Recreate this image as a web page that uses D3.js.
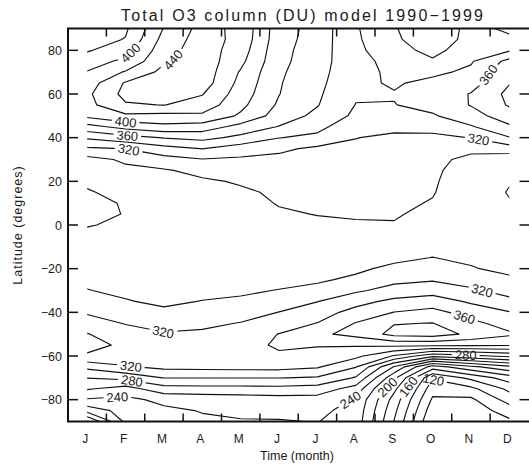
<!DOCTYPE html>
<html>
<head>
<meta charset="utf-8">
<script src="https://cdn.jsdelivr.net/npm/d3@7"></script>
<style>
  body { margin: 0; background: #fff; }
  svg { display: block; }
  text { font-family: "Liberation Sans", Arial, sans-serif; fill: #1a1a1a; }
</style>
</head>
<body>
<svg id="chart" width="529" height="467"></svg>
<script>
// Zonal-mean total ozone column (DU), monthly climatology 1990-1999.
// Each month array runs from 90N to 90S in 5-degree steps.
const latitudes = d3.range(90, -91, -5);
const monthLabels = ["J", "F", "M", "A", "M", "J", "J", "A", "S", "O", "N", "D"];
const latTicks = [-80, -60, -40, -20, 0, 20, 40, 60, 80];

const jan = [365, 371, 378, 392, 401, 410, 416, 414, 405, 373, 343, 317, 293.5, 288, 284, 278, 273, 273, 279,
             284, 288, 291, 294, 297, 300.5, 309, 318, 328, 341, 345, 338, 305, 280.5, 262, 238, 208, 158];
const feb = [377, 381, 392, 404, 422, 442, 446, 438, 416, 387, 353, 320.5, 303, 296, 292, 287, 282, 281, 283,
             286, 288, 290, 292, 294, 297, 301, 312, 319, 328, 337, 334, 318, 286, 252, 235, 228, 225];
const mar = [421, 427, 432, 437, 446, 452, 450, 440.5, 414, 395, 361, 333, 313, 298, 292, 289, 286, 285, 286,
             287, 288, 289, 290, 292, 294, 297, 303, 312, 322, 330, 333, 325, 300.5, 272, 245, 236, 232];
const apr = [447, 449, 450, 452, 452, 450, 441, 432, 416, 391, 366, 340.5, 319, 306, 297, 293, 290, 289, 289,
             289, 290, 290, 291, 293, 296, 300.5, 306, 315, 324, 331, 334, 326, 300.5, 273, 248, 241, 237];
const may = [435, 434, 430, 425, 418, 414, 410, 405, 397, 373, 355, 330, 317, 306, 302, 297, 294, 292, 291,
             290, 290, 290, 292, 295, 298, 302, 310, 321, 330, 335, 336, 327, 300.5, 273, 250, 243, 239];
const jun = [389, 388, 386, 385, 383, 381.5, 380.5, 377, 371, 359, 340.5, 324, 315, 310, 306, 303, 301, 298, 296,
             294, 293, 292, 293, 296, 300.5, 308, 320.5, 331, 340.5, 342, 338, 327, 300.5, 274, 252, 244, 239];
const jul = [372, 371, 370, 369, 367, 365, 363, 361, 355, 345, 336, 316, 310, 307, 305, 304, 302, 300.5, 297,
             294, 292, 291, 293, 297, 306, 319.5, 331, 340.5, 356, 341, 335, 322, 298, 271, 252, 244, 240.5];
const aug = [342, 343, 344, 345, 345, 344, 342, 339.5, 336, 328, 320.5, 316, 313, 310, 307, 305, 303, 301, 299,
             296, 294, 293, 296, 304, 317, 333, 347, 361, 366, 342, 325, 301, 278, 252, 238, 234, 232];
const sep = [322, 324, 329, 335, 337, 338, 341, 339.5, 334, 325, 316, 312, 309, 307, 305, 304, 303, 301.5, 299,
             297, 295, 295, 305, 315, 327, 345, 360.5, 379, 386, 345, 298, 238, 205, 185, 172, 165, 159];
const oct = [301, 305, 313, 323, 336, 345, 348, 346, 338, 326, 316, 309, 305, 303, 302, 301, 299, 296, 294,
             293, 292, 300.5, 309, 318, 332, 350, 366, 380.5, 389, 345, 265, 170, 122, 108, 97, 88, 80];
const nov = [328, 328, 333, 338, 344, 352, 361, 361, 352, 338, 320.5, 305, 295, 292, 290, 289, 289, 290, 291,
             292, 293, 295, 302, 312, 323, 337, 352, 365, 376, 343, 275, 195, 145, 115, 96, 88, 82];
const dec = [315, 325, 338, 366, 376, 379, 385, 382, 371, 357, 339, 310, 288, 284, 281, 279, 281, 284, 287,
             289, 290, 292, 293, 305, 313, 325, 341, 352, 363, 342, 285, 215, 170, 145, 128, 110, 96];

// Contour levels every 20 DU; labelled lines carry the level at these spots (month, latitude).
const levels = d3.range(100, 461, 20);
const contourLabels = [
  { level: 400, month: 1.70, lat: 77.5 },
  { level: 440, month: 2.82, lat: 74.5 },
  { level: 400, month: 1.49, lat: 45.5 },
  { level: 360, month: 1.54, lat: 39.5 },
  { level: 320, month: 1.57, lat: 33.5 },
  { level: 360, month: 10.96, lat: 68.7 },
  { level: 320, month: 10.70, lat: 39.5 },
  { level: 320, month: 10.80, lat: -29.5 },
  { level: 360, month: 10.35, lat: -41 },
  { level: 320, month: 2.48, lat: -49 },
  { level: 320, month: 1.64, lat: -64.5 },
  { level: 280, month: 1.67, lat: -71 },
  { level: 240, month: 1.28, lat: -76.5 },
  { level: 240, month: 7.30, lat: -77.8 },
  { level: 200, month: 8.17, lat: -71.5 },
  { level: 160, month: 8.77, lat: -72.7 },
  { level: 120, month: 9.52, lat: -71 },
  { level: 280, month: 10.36, lat: -62 }
];

const W = 529, H = 467;
const plotLeft = 68, plotRight = 528.5, plotTop = 28.5, plotBottom = 421.5;

const svg = d3.select("#chart");
const x = d3.scaleLinear().domain([0, 12]).range([plotLeft, plotRight]);
const y = d3.scaleLinear().domain([-90, 90]).range([plotBottom, plotTop]);

// Grid (row-major, north to south) for the contour generator
const months = [jan, feb, mar, apr, may, jun, jul, aug, sep, oct, nov, dec];
const nx = months.length, ny = latitudes.length;
const values = new Array(nx * ny);
for (let j = 0; j < ny; j++) for (let i = 0; i < nx; i++) values[j * nx + i] = months[i][j];

const contours = d3.contours().size([nx, ny]).thresholds(levels)(values);

const lat0 = latitudes[0], dLat = latitudes[1] - latitudes[0];
const gridToScreen = (gx, gy) => [x(gx), y(lat0 + (gy - 0.5) * dLat)];
const projection = d3.geoTransform({
  point(gx, gy) { const p = gridToScreen(gx, gy); this.stream.point(p[0], p[1]); }
});
const path = d3.geoPath(projection);

// Data extent: month centres of Jan..Dec, pole to pole
const x0 = x(0.5), x1 = x(nx - 0.5), y0 = y(lat0), y1 = y(latitudes[ny - 1]);

const defs = svg.append("defs");
defs.append("clipPath").attr("id", "dataArea")
  .append("rect").attr("x", x0).attr("y", y0).attr("width", x1 - x0).attr("height", y1 - y0);

const contourG = svg.append("g").attr("clip-path", "url(#dataArea)");
const labelG = svg.append("g");

// Find the spot on a level's line closest to the requested position
function locateLabel(spec) {
  const c = contours.find(d => d.value === spec.level);
  const tx = x(spec.month), ty = y(spec.lat);
  const inside = p => p[0] >= x0 - 0.5 && p[0] <= x1 + 0.5 && p[1] >= y0 - 0.5 && p[1] <= y1 + 0.5;
  let best = null;
  c.coordinates.forEach(poly => poly.forEach(ring => {
    const pts = ring.map(p => gridToScreen(p[0], p[1]));
    for (let k = 0; k < pts.length - 1; k++) {
      const a = pts[k], b = pts[k + 1];
      if (!inside(a) || !inside(b)) continue;
      const dx = b[0] - a[0], dy = b[1] - a[1], L2 = dx * dx + dy * dy;
      if (L2 === 0) continue;
      let t = ((tx - a[0]) * dx + (ty - a[1]) * dy) / L2;
      t = Math.max(0, Math.min(1, t));
      const px = a[0] + t * dx, py = a[1] + t * dy;
      const d = (px - tx) ** 2 + (py - ty) ** 2;
      if (!best || d < best.d) best = { d, px, py, ang: Math.atan2(dy, dx) * 180 / Math.PI };
    }
  }));
  let ang = best.ang;
  if (ang > 90) ang -= 180;
  if (ang < -90) ang += 180;
  return Object.assign({}, spec, { px: best.px, py: best.py, ang });
}

const placed = contourLabels.map(locateLabel);
placed.forEach(l => {
  const t = labelG.append("text")
    .attr("transform", `translate(${l.px},${l.py}) rotate(${l.ang})`)
    .attr("text-anchor", "middle")
    .attr("dy", "0.36em")
    .attr("font-size", 13)
    .text(l.level);
  l.w = t.node().getComputedTextLength();
});

// Gaps in each labelled line where its labels sit
const byLevel = d3.group(placed, d => d.level);
byLevel.forEach((arr, level) => {
  const m = defs.append("mask").attr("id", "gap" + level)
    .attr("maskUnits", "userSpaceOnUse").attr("x", 0).attr("y", 0).attr("width", W).attr("height", H);
  m.append("rect").attr("width", W).attr("height", H).attr("fill", "#fff");
  arr.forEach(l => {
    m.append("rect")
      .attr("x", -l.w / 2 - 3).attr("y", -6).attr("width", l.w + 6).attr("height", 12)
      .attr("fill", "#000")
      .attr("transform", `translate(${l.px},${l.py}) rotate(${l.ang})`);
  });
});

contourG.selectAll("path")
  .data(contours)
  .join("path")
  .attr("d", path)
  .attr("fill", "none")
  .attr("stroke", "#111")
  .attr("stroke-width", 1.15)
  .attr("stroke-linejoin", "round")
  .attr("mask", d => byLevel.has(d.value) ? `url(#gap${d.value})` : null);

// Frame (left, top, bottom) and inward ticks
const frame = svg.append("g").attr("stroke", "#111").attr("fill", "none");
frame.append("path").attr("stroke-width", 2)
  .attr("d", `M${plotLeft},${plotTop}H${W}M${plotLeft},${plotBottom}H${W}M${plotLeft},${plotTop - 1}V${plotBottom + 1}`);

latTicks.forEach(v => {
  frame.append("line").attr("x1", plotLeft).attr("x2", plotLeft + 10).attr("y1", y(v)).attr("y2", y(v)).attr("stroke-width", 1.5);
  frame.append("line").attr("x1", W).attr("x2", plotRight - 9).attr("y1", y(v)).attr("y2", y(v)).attr("stroke-width", 1.5);
});
d3.range(1, 12).forEach(m => {
  frame.append("line").attr("x1", x(m)).attr("x2", x(m)).attr("y1", plotBottom).attr("y2", plotBottom - 8).attr("stroke-width", 1.5);
  frame.append("line").attr("x1", x(m)).attr("x2", x(m)).attr("y1", plotTop).attr("y2", plotTop + 8).attr("stroke-width", 1.5);
});

// Axis labels
svg.append("g").selectAll("text").data(latTicks).join("text")
  .attr("x", plotLeft - 6).attr("y", d => y(d)).attr("dy", "0.36em")
  .attr("text-anchor", "end").attr("font-size", 12.5)
  .text(d => d < 0 ? "\u2212" + Math.abs(d) : d);

svg.append("g").selectAll("text").data(monthLabels).join("text")
  .attr("x", (d, i) => x(i + 0.5) - 2).attr("y", 443)
  .attr("text-anchor", "middle").attr("font-size", 12)
  .text(d => d);

svg.append("text").attr("x", 297).attr("y", 460).attr("text-anchor", "middle")
  .attr("font-size", 12.5).text("Time (month)");

svg.append("text").attr("transform", "translate(22,225) rotate(-90)").attr("text-anchor", "middle")
  .attr("font-size", 12.5).attr("letter-spacing", 1).text("Latitude (degrees)");

svg.append("text").attr("x", 302).attr("y", 21).attr("text-anchor", "middle")
  .attr("font-size", 16).attr("textLength", 362).attr("lengthAdjust", "spacing")
  .text("Total O3 column (DU) model 1990\u22121999");
</script>
</body>
</html>
